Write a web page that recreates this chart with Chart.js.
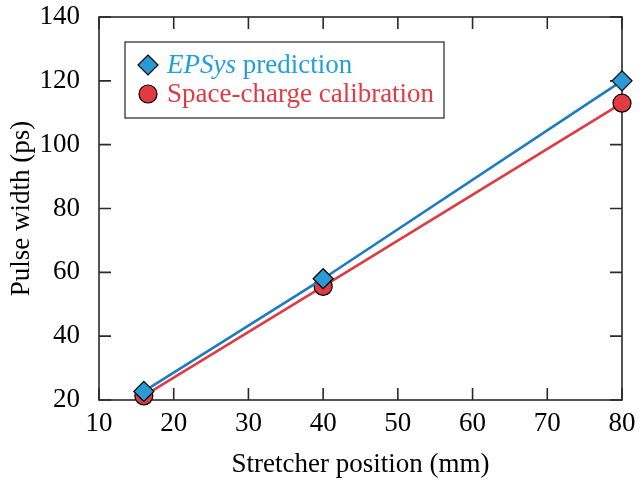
<!DOCTYPE html>
<html>
<head>
<meta charset="utf-8">
<script src="https://cdn.jsdelivr.net/npm/chart.js@4"></script>
<style>
  html, body { margin: 0; padding: 0; background: #fff; }
  #wrap { width: 643px; height: 483px; }
</style>
</head>
<body>
<div id="wrap"><canvas id="myChart" width="643" height="483"></canvas></div>
<script>
// Stretcher positions (mm) and measured / predicted pulse widths (ps)
const positions = [16, 40, 80];
const epsysWidths = [22.7, 58, 120];
const calibWidths = [21.3, 55.6, 113];

const xTicks = [10, 20, 30, 40, 50, 60, 70, 80];
const yTicks = [20, 40, 60, 80, 100, 120, 140];

const serif = "'Liberation Serif', 'Times New Roman', serif";
const fontSize = 27;
const blue = "#1c7cc2";
const blueFill = "#2a9ad6";
const blueText = "#1fa0dc";
const red = "#e13a42";

// Frame round the plot with inward ticks on all four sides
const frameTicks = {
  id: "frameTicks",
  beforeDatasetsDraw(chart) {
    const { ctx, chartArea: a, scales } = chart;
    const len = 12;
    ctx.save();
    ctx.strokeStyle = "#2a2a2a";
    ctx.lineWidth = 1.6;
    ctx.strokeRect(a.left, a.top, a.right - a.left, a.bottom - a.top);
    ctx.beginPath();
    xTicks.forEach(v => {
      const px = scales.x.getPixelForValue(v);
      ctx.moveTo(px, a.bottom); ctx.lineTo(px, a.bottom - len);
      ctx.moveTo(px, a.top); ctx.lineTo(px, a.top + len);
    });
    yTicks.forEach(v => {
      const py = scales.y.getPixelForValue(v);
      ctx.moveTo(a.left, py); ctx.lineTo(a.left + len, py);
      ctx.moveTo(a.right, py); ctx.lineTo(a.right - len, py);
    });
    ctx.stroke();
    ctx.restore();
  }
};

// Boxed legend, with the model name set in italics
const boxLegend = {
  id: "boxLegend",
  afterDraw(chart) {
    const { ctx } = chart;
    const x0 = 125, y0 = 42, w = 319, h = 76;
    ctx.save();
    ctx.fillStyle = "#fff";
    ctx.fillRect(x0, y0, w, h);
    ctx.strokeStyle = "#222";
    ctx.lineWidth = 1.2;
    ctx.strokeRect(x0, y0, w, h);

    const mx = x0 + 23, tx = x0 + 42;
    const r1 = y0 + 23, r2 = y0 + 52;
    ctx.lineWidth = 1.2;
    ctx.strokeStyle = "#000";
    // diamond
    ctx.beginPath();
    ctx.moveTo(mx, r1 - 10); ctx.lineTo(mx + 10, r1);
    ctx.lineTo(mx, r1 + 10); ctx.lineTo(mx - 10, r1);
    ctx.closePath();
    ctx.fillStyle = blueFill; ctx.fill(); ctx.stroke();
    // circle
    ctx.beginPath();
    ctx.arc(mx, r2, 9, 0, Math.PI * 2);
    ctx.fillStyle = red; ctx.fill(); ctx.stroke();

    ctx.textBaseline = "middle";
    ctx.textAlign = "left";
    ctx.fillStyle = blueText;
    ctx.font = "italic " + fontSize + "px " + serif;
    ctx.fillText("EPSys", tx, r1 + 1);
    const iw = ctx.measureText("EPSys ").width;
    ctx.font = fontSize + "px " + serif;
    ctx.fillText("prediction", tx + iw, r1 + 1);
    ctx.fillStyle = red;
    ctx.fillText("Space-charge calibration", tx, r2 + 1);
    ctx.restore();
  }
};

const data = {
  datasets: [
    {
      label: "EPSys prediction",
      data: positions.map((p, i) => ({ x: p, y: epsysWidths[i] })),
      borderColor: blue,
      backgroundColor: blueFill,
      pointBackgroundColor: blueFill,
      pointBorderColor: "#000",
      pointBorderWidth: 1.2,
      pointStyle: "rectRot",
      pointRadius: 10,
      borderWidth: 2.6,
      clip: false,
      order: 0,
    },
    {
      label: "Space-charge calibration",
      data: positions.map((p, i) => ({ x: p, y: calibWidths[i] })),
      borderColor: red,
      backgroundColor: red,
      pointBackgroundColor: red,
      pointBorderColor: "#000",
      pointBorderWidth: 1.2,
      pointStyle: "circle",
      pointRadius: 9,
      borderWidth: 2.6,
      clip: false,
      order: 1,
    },
  ],
};

const config = {
  type: "line",
  data: data,
  options: {
    responsive: false,
    animation: false,
    layout: { padding: { top: 17, right: 21, left: 0, bottom: 0 } },
    plugins: {
      legend: { display: false },
      tooltip: { enabled: false },
    },
    scales: {
      x: {
        type: "linear",
        min: 10,
        max: 80,
        afterFit(scale) {
          scale.height = 83;
          scale.paddingLeft = 0;
          scale.paddingRight = 0;
        },
        afterBuildTicks(scale) { scale.ticks = xTicks.map(v => ({ value: v })); },
        ticks: { color: "#000", font: { family: serif, size: fontSize }, padding: 0, maxRotation: 0 },
        grid: { display: false },
        border: { display: false },
        title: {
          display: true,
          text: "Stretcher position (mm)",
          color: "#000",
          font: { family: serif, size: fontSize },
          padding: { top: 0, bottom: 2 },
        },
      },
      y: {
        type: "linear",
        min: 20,
        max: 140,
        afterFit(scale) {
          scale.width = 99;
          scale.paddingTop = 0;
          scale.paddingBottom = 0;
        },
        afterBuildTicks(scale) { scale.ticks = yTicks.map(v => ({ value: v })); },
        ticks: { color: "#000", font: { family: serif, size: fontSize }, padding: 11 },
        grid: { display: false },
        border: { display: false },
        title: {
          display: true,
          text: "Pulse width (ps)",
          color: "#000",
          font: { family: serif, size: fontSize },
          padding: { top: 6, bottom: 0 },
        },
      },
    },
  },
  plugins: [frameTicks, boxLegend],
};

const myChart = new Chart(document.getElementById("myChart"), config);
</script>
</body>
</html>
